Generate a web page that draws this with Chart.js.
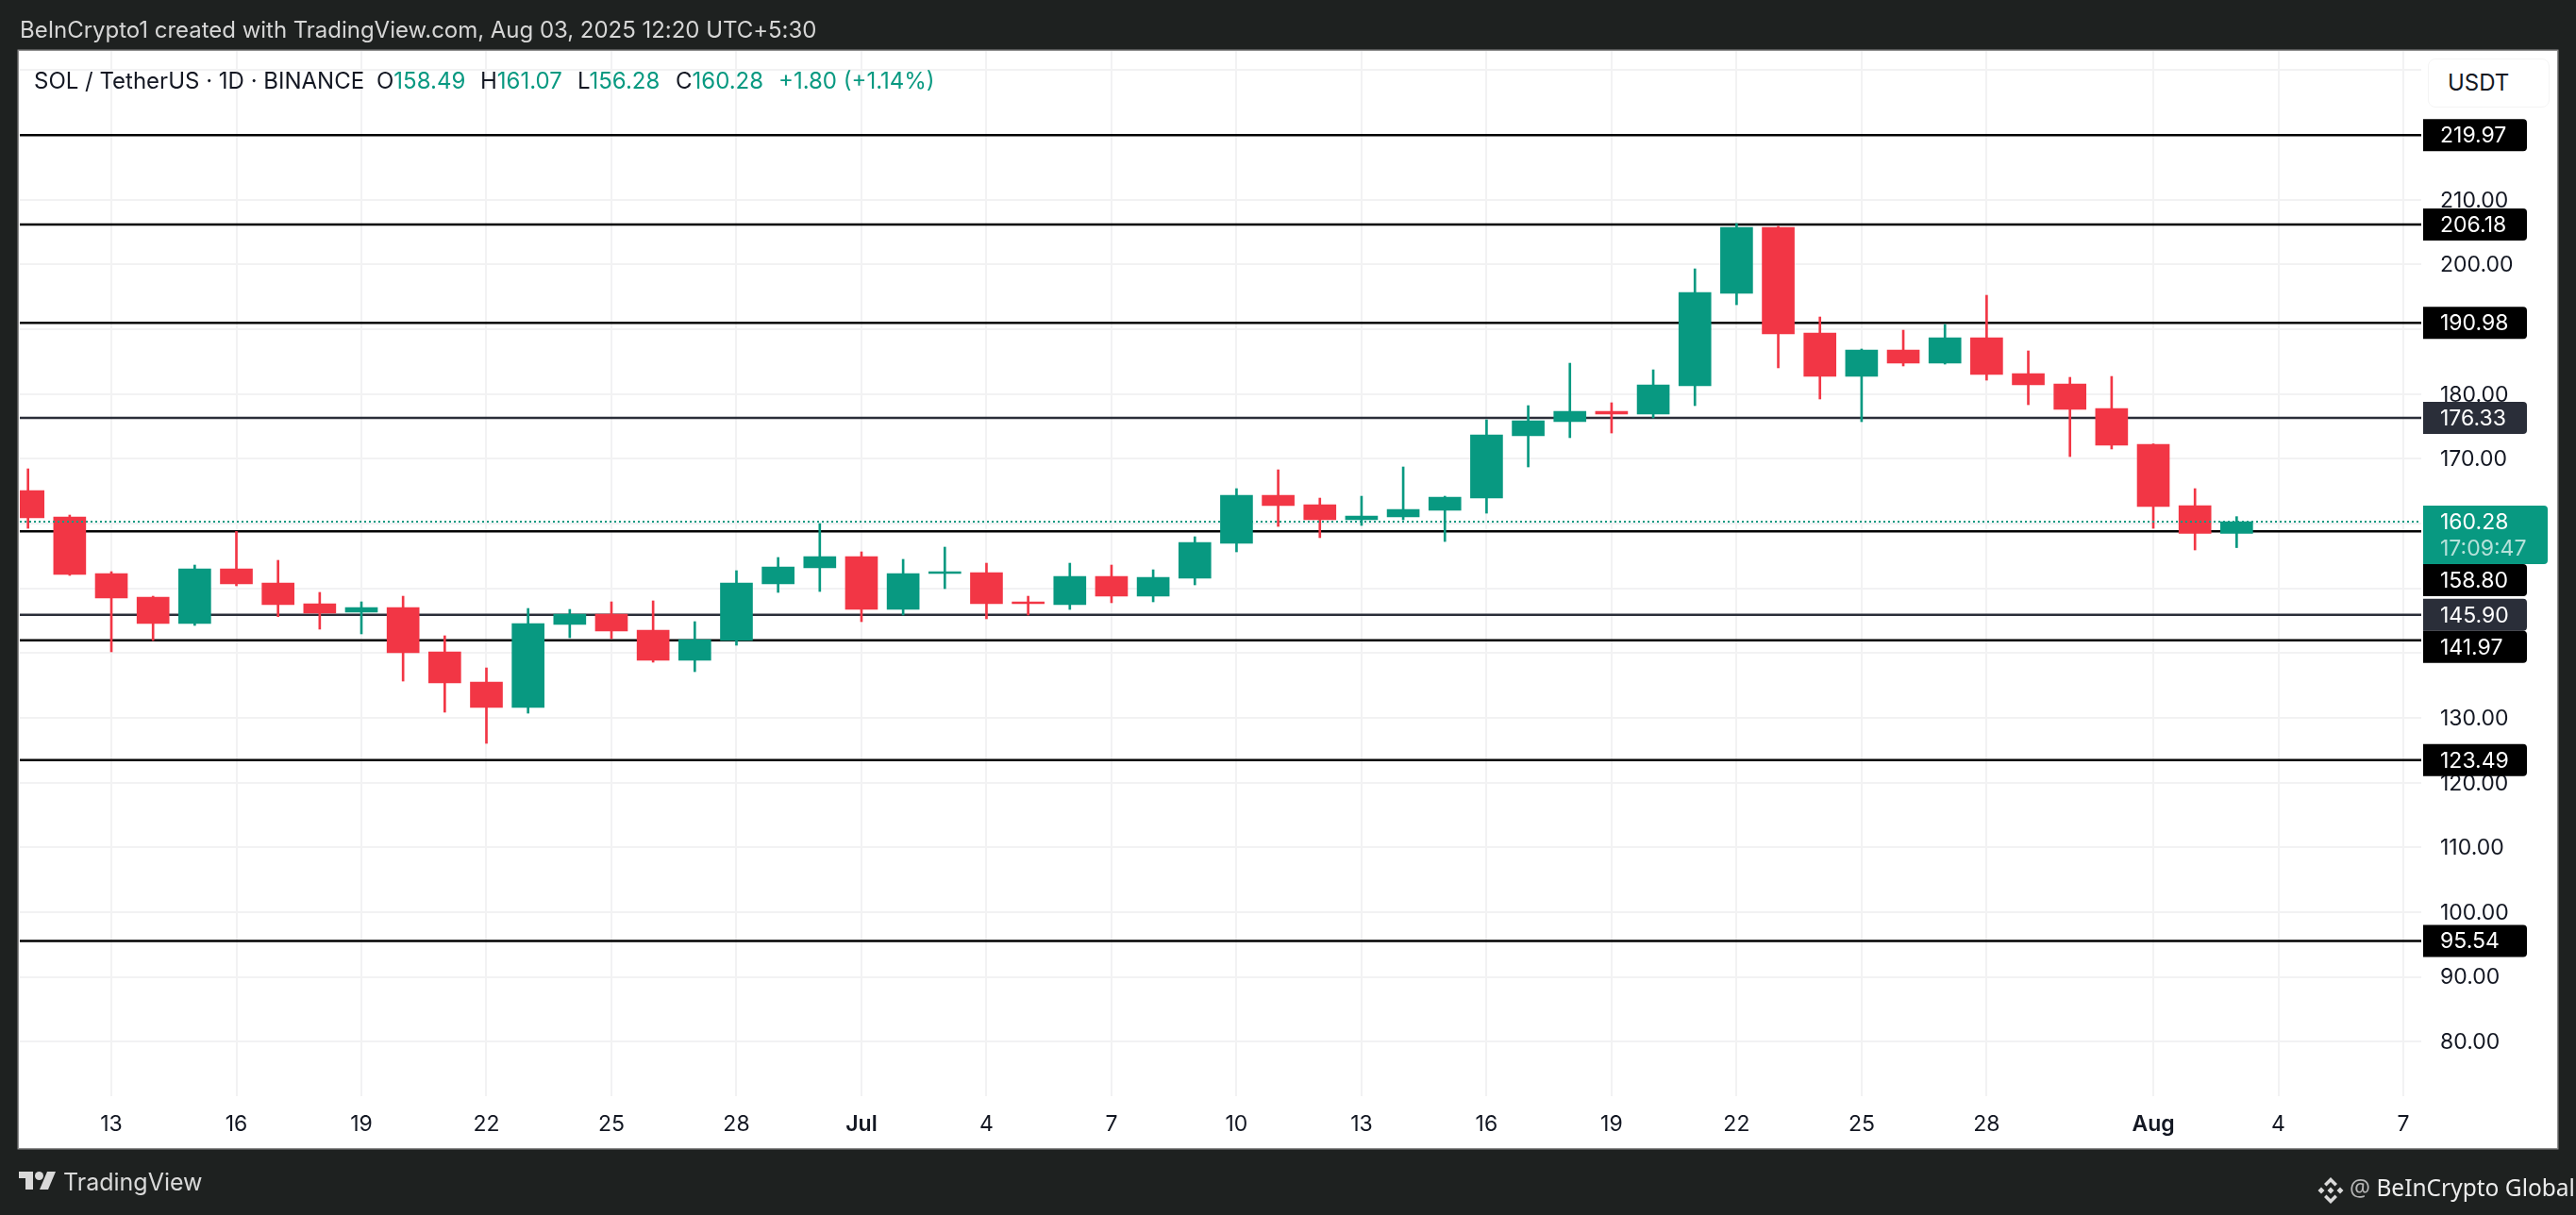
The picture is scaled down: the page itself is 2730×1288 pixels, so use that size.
<!DOCTYPE html>
<html>
<head>
<meta charset="utf-8">
<title>SOL / TetherUS</title>
<script src="https://cdn.jsdelivr.net/npm/chart.js@4"></script>
<style>
    html, body { margin: 0; padding: 0; background: #1e2120; }
    body { width: 2730px; height: 1288px; position: relative; overflow: hidden; font-family: Inter, sans-serif; }
    #frame { position: absolute; left: 20px; top: 54px; width: 2690px; height: 1163px; background: #fff; box-shadow: 0 0 0 1.5px #8c8c8c; }
    #chart { position: absolute; left: 0; top: 0; }
    .txt { position: absolute; white-space: pre; line-height: 1; }
    #created { left: 21px; top: 20px; font-size: 24px; letter-spacing: -0.03px; color: #d6d6d6; }
    .legend { top: 74px; font-size: 24px; color: #131722; }
    .up { color: #089981; }
    #unit { left: 2573px; top: 62px; width: 107px; height: 50px; padding-left: 20px; border: 1px solid #f4f4f4; border-radius: 8px; background: #fff; font-size: 24px; line-height: 50px; color: #131722; position: absolute; }
    #tvtext { left: 67px; top: 1241px; font-size: 25px; color: #d9d9d9; }
    #bic { left: 2490px; top: 1247px; font-family: "Noto Sans", sans-serif; font-size: 24.5px; color: #ececec; }
    #bic span { color: #b5b5b5; }
    svg { position: absolute; }
</style>
</head>
<body>
<div id="frame"></div>
<canvas id="chart" width="2730" height="1288"></canvas>

<div class="txt" id="created">BeInCrypto1 created with TradingView.com, Aug 03, 2025 12:20 UTC+5:30</div>
<div class="txt legend" style="left:36px">SOL / TetherUS · 1D · BINANCE</div>
<div class="txt legend" style="left:399px">O<span class="up">158.49</span></div>
<div class="txt legend" style="left:509px">H<span class="up">161.07</span></div>
<div class="txt legend" style="left:612px">L<span class="up">156.28</span></div>
<div class="txt legend" style="left:716px">C<span class="up">160.28</span></div>
<div class="txt legend up" style="left:825px">+1.80 (+1.14%)</div>
<div id="unit">USDT</div>

<svg style="left:20px;top:1242px" width="40" height="20" viewBox="0 0 40 20">
    <path fill="#d9d9d9" d="M0 0H15V19H7V7H0Z"/>
    <circle fill="#d9d9d9" cx="21.5" cy="4.5" r="4.5"/>
    <path fill="#d9d9d9" d="M30 0H39L31 19H22Z"/>
</svg>
<div class="txt" id="tvtext">TradingView</div>

<svg style="left:2456px;top:1248px" width="28" height="28" viewBox="0 0 28 28">
    <path fill="#d9d9d9" d="M14 0L21 7L18.5 9.5L14 5L9.5 9.5L7 7ZM14 28L7 21L9.5 18.5L14 23L18.5 18.5L21 21ZM14 10.5L17.5 14L14 17.5L10.5 14ZM4 10.5L7.5 14L4 17.5L0.5 14ZM24 10.5L27.5 14L24 17.5L20.5 14Z"/>
</svg>
<div class="txt" id="bic"><span>@</span> BeInCrypto Global</div>

<script>
(function () {
    'use strict';

    // daily candles, Jun 11 to Aug 3 2025
    var dates = [
        'Jun 11', 'Jun 12', 'Jun 13', 'Jun 14', 'Jun 15', 'Jun 16', 'Jun 17', 'Jun 18', 'Jun 19', 'Jun 20',
        'Jun 21', 'Jun 22', 'Jun 23', 'Jun 24', 'Jun 25', 'Jun 26', 'Jun 27', 'Jun 28', 'Jun 29', 'Jun 30',
        'Jul 1', 'Jul 2', 'Jul 3', 'Jul 4', 'Jul 5', 'Jul 6', 'Jul 7', 'Jul 8', 'Jul 9', 'Jul 10',
        'Jul 11', 'Jul 12', 'Jul 13', 'Jul 14', 'Jul 15', 'Jul 16', 'Jul 17', 'Jul 18', 'Jul 19', 'Jul 20',
        'Jul 21', 'Jul 22', 'Jul 23', 'Jul 24', 'Jul 25', 'Jul 26', 'Jul 27', 'Jul 28', 'Jul 29', 'Jul 30',
        'Jul 31', 'Aug 1', 'Aug 2', 'Aug 3'
    ];
    var opens = [
        165.10, 161.02, 152.28, 148.64, 144.56, 153.01, 150.82, 147.62, 146.31, 147.04,
        140.19, 135.53, 131.59, 144.41, 146.02, 143.54, 138.88, 141.94, 150.68, 153.15,
        154.90, 146.74, 152.28, 152.43, 147.91, 147.47, 151.84, 148.78, 151.55, 156.94,
        164.37, 162.91, 160.58, 161.02, 162.04, 163.93, 173.55, 175.73, 177.33, 176.90,
        181.27, 195.54, 205.74, 189.42, 182.72, 186.80, 184.76, 188.70, 183.16, 181.56,
        177.77, 172.24, 162.77, 158.49
    ];
    var highs = [
        168.45, 161.31, 152.57, 148.78, 153.59, 158.79, 154.32, 149.37, 147.91, 148.78,
        142.67, 137.71, 146.89, 146.74, 147.91, 148.06, 144.85, 152.72, 154.76, 160.00,
        155.63, 154.47, 156.36, 153.88, 148.78, 153.88, 153.59, 152.86, 157.96, 165.39,
        168.30, 163.93, 164.22, 168.74, 164.22, 176.02, 178.21, 184.76, 178.65, 183.74,
        199.33, 206.32, 205.90, 191.90, 186.95, 189.86, 190.74, 195.25, 186.66, 182.58,
        182.72, 172.30, 165.39, 161.07
    ];
    var lows = [
        159.27, 151.99, 140.19, 141.94, 144.27, 150.39, 145.63, 143.69, 142.96, 135.67,
        130.87, 126.06, 130.72, 142.37, 142.23, 138.59, 137.13, 141.21, 149.37, 149.51,
        144.85, 145.87, 149.95, 145.29, 145.87, 146.74, 147.77, 147.91, 150.53, 155.63,
        159.56, 157.82, 159.71, 160.58, 157.23, 161.60, 168.74, 173.26, 173.98, 176.31,
        178.21, 193.79, 184.04, 179.23, 175.73, 184.33, 184.62, 182.14, 178.35, 170.34,
        171.51, 159.27, 155.92, 156.28
    ];
    var closes = [
        160.87, 152.13, 148.49, 144.56, 153.01, 150.68, 147.47, 146.16, 147.04, 140.04,
        135.38, 131.59, 144.56, 146.02, 143.39, 138.88, 142.08, 150.82, 153.30, 154.90,
        146.74, 152.28, 152.57, 147.62, 147.62, 151.84, 148.78, 151.70, 157.09, 164.37,
        162.77, 160.58, 161.17, 162.18, 164.08, 173.69, 175.88, 177.33, 176.90, 181.41,
        195.69, 205.74, 189.28, 182.72, 186.80, 184.76, 188.70, 183.02, 181.41, 177.63,
        172.09, 162.62, 158.48, 160.28
    ];

    // horizontal levels drawn on the chart
    var levelValues = [219.97, 206.18, 190.98, 176.33, 158.80, 145.90, 141.97, 123.49, 95.54];
    var slateLevels = [176.33, 145.90];
    var lastPrice = 160.28;
    var countdown = '17:09:47';

    // x axis ticks, as candle index counted from Jun 11
    var tickPositions = [2, 5, 8, 11, 14, 17, 20, 23, 26, 29, 32, 35, 38, 41, 44, 47, 51, 54, 57];
    var tickLabels = ['13', '16', '19', '22', '25', '28', 'Jul', '4', '7', '10', '13', '16', '19', '22', '25', '28', 'Aug', '4', '7'];

    var xMin = -0.197, xMax = 57.43;
    var yMin = 71.58, yMax = 232.98;
    var topLabelledTick = 210; // the 220 and 230 ticks sit behind the tag and the unit button

    var GREEN = '#089981', RED = '#f23645', BLACK = '#000000', SLATE = '#2a2e39';
    var GRID = '#f2f2f3', TEXT = '#131722';
    var FONT = 'Inter, sans-serif';

    function candleColors() {
        return opens.map(function (open, i) {
            return closes[i] >= open ? GREEN : RED;
        });
    }

    function flatLine(value) {
        return [{x: xMin, y: value}, {x: xMax, y: value}];
    }

    function levelColor(value) {
        return slateLevels.indexOf(value) >= 0 ? SLATE : BLACK;
    }

    var datasets = [];

    // dotted last price line
    datasets.push({
        type: 'line',
        label: 'Last',
        data: flatLine(lastPrice),
        borderColor: GREEN,
        borderWidth: 2,
        borderDash: [2, 3],
        pointRadius: 0,
        order: 0
    });

    datasets.push({
        type: 'bar',
        label: 'Body',
        data: opens.map(function (open, i) {
            return {x: i, y: [open, closes[i]], date: dates[i]};
        }),
        backgroundColor: candleColors(),
        barThickness: 34,
        grouped: false,
        order: 1
    });

    datasets.push({
        type: 'bar',
        label: 'Wick',
        data: lows.map(function (low, i) {
            return {x: i, y: [low, highs[i]], date: dates[i]};
        }),
        backgroundColor: candleColors(),
        barThickness: 2,
        grouped: false,
        order: 2
    });

    levelValues.forEach(function (value) {
        datasets.push({
            type: 'line',
            label: value.toFixed(2),
            data: flatLine(value),
            borderColor: levelColor(value),
            borderWidth: 2.5,
            pointRadius: 0,
            order: 3
        });
    });

    // price tags on the right axis, pushed down when they would overlap
    var priceTags = {
        id: 'priceTags',
        afterDraw: function (chart) {
            var ctx = chart.ctx;
            var y = chart.scales.y;
            var left = chart.chartArea.right + 2;
            var tags = levelValues.map(function (value) {
                return {value: value, color: levelColor(value), width: 110, height: 34};
            });
            tags.push({value: lastPrice, color: GREEN, width: 132, height: 62, extra: countdown});
            tags.sort(function (a, b) { return b.value - a.value; });

            var bottom = 0;
            ctx.save();
            ctx.font = '23px ' + FONT;
            ctx.textBaseline = 'middle';
            ctx.textAlign = 'left';
            tags.forEach(function (tag) {
                var mid = y.getPixelForValue(tag.value);
                var top = Math.max(mid - 17, bottom);
                bottom = top + tag.height;
                ctx.fillStyle = tag.color;
                ctx.beginPath();
                ctx.roundRect(left, top, tag.width, tag.height, [0, 4, 4, 0]);
                ctx.fill();
                ctx.fillStyle = '#ffffff';
                ctx.fillText(tag.value.toFixed(2), left + 18, top + 18);
                if (tag.extra) {
                    ctx.fillStyle = 'rgba(255,255,255,0.7)';
                    ctx.fillText(tag.extra, left + 18, top + 46);
                }
            });
            ctx.restore();
        }
    };

    new Chart(document.getElementById('chart'), {
        type: 'bar',
        data: {datasets: datasets},
        plugins: [priceTags],
        options: {
            responsive: false,
            devicePixelRatio: 1,
            animation: false,
            events: [],
            layout: {padding: {left: 21, top: 54, right: 19, bottom: 71}},
            plugins: {legend: {display: false}, title: {display: false}, tooltip: {enabled: false}},
            scales: {
                x: {
                    type: 'linear',
                    offset: false,
                    min: xMin,
                    max: xMax,
                    border: {display: false},
                    grid: {color: GRID, lineWidth: 2, drawTicks: false, offset: false},
                    afterBuildTicks: function (scale) {
                        scale.ticks = tickPositions.map(function (value) {
                            return {value: value};
                        });
                    },
                    afterFit: function (scale) {
                        scale.height = 55;
                    },
                    ticks: {
                        autoSkip: false,
                        maxRotation: 0,
                        padding: 16,
                        color: TEXT,
                        font: function (context) {
                            var isMonth = context.tick && isNaN(Number(tickLabels[tickPositions.indexOf(context.tick.value)]));
                            return {family: FONT, size: 23, weight: isMonth ? '600' : '400'};
                        },
                        callback: function (value) {
                            return tickLabels[tickPositions.indexOf(value)];
                        }
                    }
                },
                y: {
                    position: 'right',
                    min: yMin,
                    max: yMax,
                    border: {display: false},
                    grid: {color: GRID, lineWidth: 2, drawTicks: false},
                    afterFit: function (scale) {
                        scale.width = 145;
                    },
                    ticks: {
                        stepSize: 10,
                        includeBounds: false,
                        autoSkip: false,
                        padding: 20,
                        labelOffset: 1,
                        color: TEXT,
                        font: {family: FONT, size: 23},
                        callback: function (value) {
                            return value > topLabelledTick ? '' : value.toFixed(2);
                        }
                    }
                }
            }
        }
    });
})();
</script>
</body>
</html>
